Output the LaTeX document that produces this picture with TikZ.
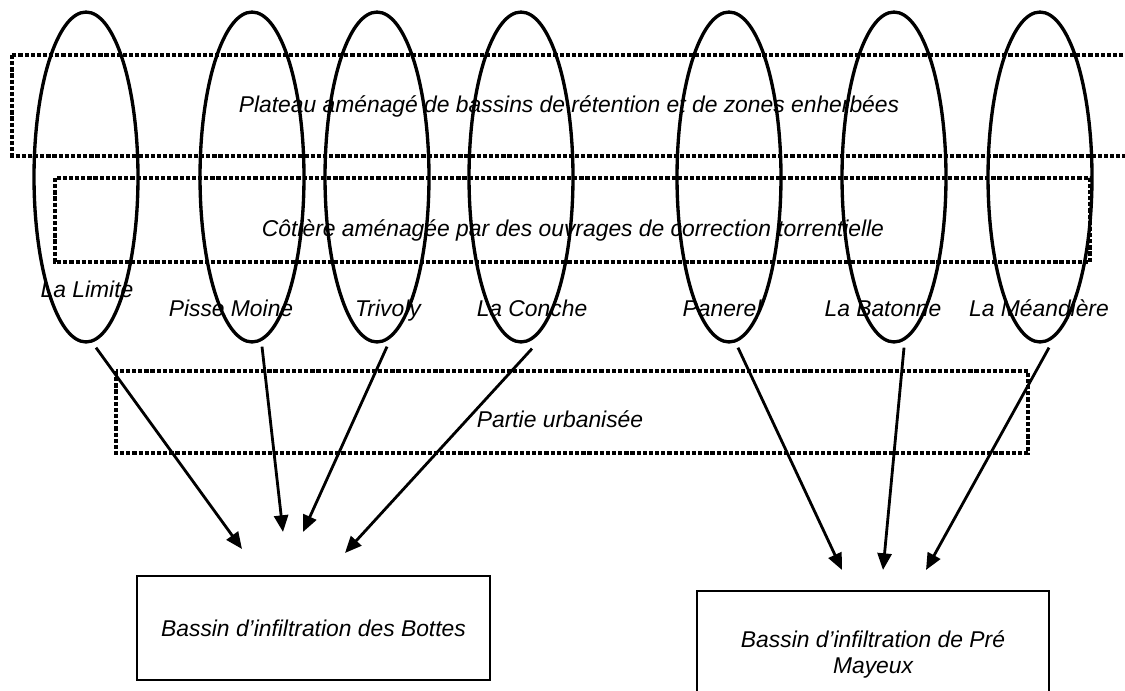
\documentclass[tikz,border=0pt]{standalone}
\usepackage{fontspec}
\setmainfont{Liberation Sans}
\usetikzlibrary{shapes.geometric,arrows.meta}

\begin{document}
\begin{tikzpicture}[x=0.02cm, y=-0.02cm, >={Triangle[length=9.5pt,width=8pt]},
  zone/.style={line width=2pt, dash pattern=on 2.4pt off 1.1pt},
  river/.style={draw, ellipse, line width=1.9pt, minimum width=2.08cm, minimum height=6.6cm, inner sep=0pt},
  txt/.style={font=\fontsize{13}{15}\selectfont\itshape, inner sep=0pt, anchor=base},
  flow/.style={->, line width=1.6pt},
  basin/.style={draw, line width=1.4pt, font=\fontsize{13}{14.7}\selectfont\itshape, align=center}]
  \useasboundingbox (0,0) rectangle (1125,690);

  % Dotted zones
  \draw[zone] (12,55) rectangle (1140,156);
  \draw[zone] (55,178) rectangle (1090,262);
  \draw[zone] (116,371) rectangle (1028,453);
  \node[txt] (plateau) at (569,112) {Plateau aménagé de bassins de rétention et de zones enherbées};
  \node[txt] (cotiere) at (573,236) {Côtière aménagée par des ouvrages de correction torrentielle};
  \node[txt] (urbain) at (560,427) {Partie urbanisée};

  % Catchments
  \node[river] (limite) at (86,177) {};
  \node[river] (pisse) at (252,177) {};
  \node[river] (trivoly) at (377,177) {};
  \node[river] (conche) at (521,177) {};
  \node[river] (panerel) at (729,177) {};
  \node[river] (batonne) at (894,177) {};
  \node[river] (meandiere) at (1040,177) {};

  % Catchment names
  \node[txt] (limiteL) at (87,297) {La Limite};
  \node[txt] (pisseL) at (231,316) {Pisse Moine};
  \node[txt] (trivolyL) at (388,316) {Trivoly};
  \node[txt] (concheL) at (532,316) {La Conche};
  \node[txt] (panerelL) at (722,316) {Panerel};
  \node[txt] (batonneL) at (883,316) {La Batonne};
  \node[txt] (meandiereL) at (1039,316) {La Méandière};

  % Infiltration basins
  \node[basin, minimum width=7.06cm, minimum height=2.08cm] (bottes) at (313.5,628) {Bassin d’infiltration des Bottes};
  \node[basin, minimum width=7.04cm, minimum height=2.44cm, text depth=0pt] (pre) at (873,652) {Bassin d’infiltration de Pré\\Mayeux};

  % Arrow ends
  \coordinate (bottesA) at (242,549);
  \coordinate (bottesB) at (283,532);
  \coordinate (bottesC) at (303,532);
  \coordinate (bottesD) at (345,553);
  \coordinate (preA) at (842,570);
  \coordinate (preB) at (883,570);
  \coordinate (preC) at (926,570);

  % Flows
  \draw[flow] ([shift={(10,4)}]limite.south) -- (bottesA);
  \draw[flow] ([shift={(10,3)}]pisse.south) -- (bottesB);
  \draw[flow] ([shift={(10,3)}]trivoly.south) -- (bottesC);
  \draw[flow] ([shift={(11,5)}]conche.south) -- (bottesD);
  \draw[flow] ([shift={(9,4)}]panerel.south) -- (preA);
  \draw[flow] ([shift={(10,4)}]batonne.south) -- (preB);
  \draw[flow] ([shift={(9,4)}]meandiere.south) -- (preC);
\end{tikzpicture}
\end{document}
